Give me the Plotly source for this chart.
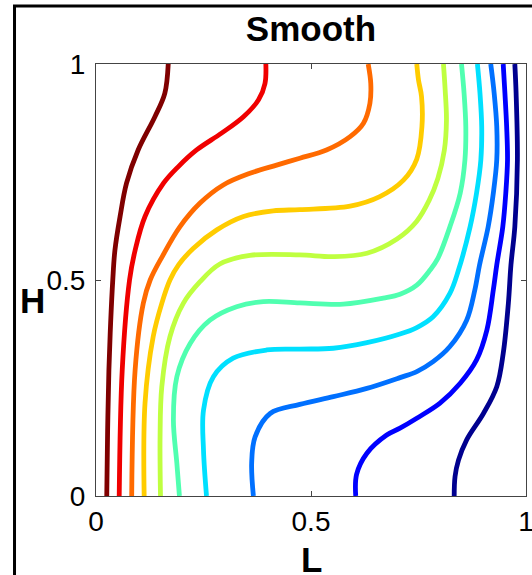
import plotly.graph_objects as go

# Contour lines (bottom edge -> top edge), in data units
line_colors = ["#800000", "#f00000", "#ff6a00", "#ffcc00", "#bfff40",
               "#50ffb0", "#00e0ff", "#0070ff", "#0000ff", "#00008f"]

dark_red_x = [0.025, 0.027, 0.030, 0.034, 0.039, 0.044, 0.056, 0.071, 0.098, 0.137, 0.160, 0.168]
dark_red_y = [0.000, 0.150, 0.292, 0.400, 0.500, 0.569, 0.647, 0.724, 0.801, 0.878, 0.932, 1.000]

red_x = [0.054, 0.061, 0.078, 0.091, 0.114, 0.157, 0.191, 0.234, 0.292, 0.343, 0.378, 0.393, 0.395]
red_y = [0.000, 0.292, 0.500, 0.569, 0.647, 0.724, 0.762, 0.801, 0.840, 0.878, 0.917, 0.955, 1.000]

orange_x = [0.083, 0.091, 0.110, 0.126, 0.155, 0.195, 0.242, 0.296, 0.358, 0.420, 0.474, 0.536, 0.591, 0.622, 0.637, 0.639, 0.633]
orange_y = [0.000, 0.292, 0.446, 0.500, 0.556, 0.623, 0.678, 0.720, 0.747, 0.766, 0.782, 0.801, 0.832, 0.863, 0.909, 0.955, 1.000]

yellow_x = [0.112, 0.114, 0.133, 0.153, 0.172, 0.192, 0.226, 0.281, 0.343, 0.412, 0.474, 0.591, 0.660, 0.715, 0.746, 0.758, 0.757, 0.750, 0.746]
yellow_y = [0.000, 0.215, 0.369, 0.446, 0.500, 0.535, 0.573, 0.616, 0.647, 0.660, 0.663, 0.671, 0.693, 0.731, 0.780, 0.855, 0.925, 0.963, 1.000]

ygreen_x = [0.150, 0.149, 0.153, 0.172, 0.203, 0.242, 0.288, 0.358, 0.474, 0.552, 0.630, 0.700, 0.745, 0.775, 0.795, 0.810, 0.815, 0.812, 0.808]
ygreen_y = [0.000, 0.137, 0.253, 0.369, 0.446, 0.496, 0.537, 0.557, 0.558, 0.554, 0.562, 0.595, 0.635, 0.685, 0.735, 0.800, 0.870, 0.940, 1.000]

aqua_x = [0.194, 0.188, 0.180, 0.188, 0.219, 0.265, 0.327, 0.389, 0.474, 0.575, 0.668, 0.707, 0.746, 0.777, 0.795, 0.823, 0.847, 0.858, 0.860, 0.856, 0.850]
aqua_y = [0.000, 0.076, 0.176, 0.276, 0.353, 0.407, 0.438, 0.450, 0.447, 0.444, 0.458, 0.467, 0.488, 0.523, 0.550, 0.623, 0.701, 0.778, 0.855, 0.932, 1.000]

cyan_x = [0.257, 0.250, 0.250, 0.273, 0.319, 0.397, 0.474, 0.552, 0.630, 0.707, 0.746, 0.784, 0.823, 0.843, 0.870, 0.885, 0.895, 0.897, 0.893, 0.887]
cyan_y = [0.000, 0.106, 0.199, 0.276, 0.319, 0.338, 0.340, 0.342, 0.355, 0.375, 0.390, 0.415, 0.469, 0.523, 0.623, 0.701, 0.778, 0.855, 0.932, 1.000]

lblue_x = [0.366, 0.362, 0.370, 0.405, 0.474, 0.552, 0.630, 0.707, 0.746, 0.784, 0.823, 0.862, 0.881, 0.892, 0.912, 0.924, 0.932, 0.932, 0.926, 0.918]
lblue_y = [0.000, 0.076, 0.137, 0.191, 0.212, 0.230, 0.249, 0.274, 0.288, 0.311, 0.346, 0.407, 0.477, 0.535, 0.623, 0.701, 0.778, 0.855, 0.932, 1.000]

blue_x = [0.604, 0.606, 0.630, 0.676, 0.707, 0.746, 0.800, 0.847, 0.885, 0.909, 0.924, 0.932, 0.946, 0.953, 0.957, 0.955, 0.951, 0.947]
blue_y = [0.000, 0.050, 0.099, 0.141, 0.157, 0.180, 0.215, 0.261, 0.315, 0.384, 0.477, 0.535, 0.623, 0.701, 0.778, 0.855, 0.932, 1.000]

dblue_x = [0.833, 0.835, 0.843, 0.862, 0.901, 0.932, 0.947, 0.959, 0.965, 0.974, 0.980, 0.977, 0.974]
dblue_y = [0.000, 0.045, 0.083, 0.130, 0.191, 0.253, 0.330, 0.446, 0.535, 0.623, 0.778, 0.932, 1.000]

lines_x = [dark_red_x, red_x, orange_x, yellow_x, ygreen_x, aqua_x, cyan_x, lblue_x, blue_x, dblue_x]
lines_y = [dark_red_y, red_y, orange_y, yellow_y, ygreen_y, aqua_y, cyan_y, lblue_y, blue_y, dblue_y]

tick_vals = [0, 0.5, 1]
tick_text = ["0", "0.5", "1"]

FONT = "Liberation Sans, Arial, sans-serif"

fig = go.Figure()
for xs, ys, c in zip(lines_x, lines_y, line_colors):
    fig.add_trace(go.Scatter(x=xs, y=ys, mode="lines",
                             line=dict(color=c, width=4.8, shape="spline", smoothing=1.0),
                             showlegend=False, hoverinfo="skip"))

axis_common = dict(range=[0, 1], tickvals=tick_vals, ticktext=tick_text,
                   showgrid=False, zeroline=False, showline=True, mirror="ticks",
                   linecolor="#444444", linewidth=1, ticks="inside", ticklen=5,
                   tickcolor="#444444", tickwidth=1, ticklabeloverflow="allow",
                   automargin=False,
                   tickfont=dict(family=FONT, size=28, color="black"))

fig.update_layout(
    width=532, height=575,
    margin=dict(l=96, r=6, t=64, b=79, autoexpand=False),
    paper_bgcolor="white", plot_bgcolor="white",
    xaxis=dict(**axis_common, ticklabelstandoff=0),
    yaxis=dict(**axis_common, ticklabelstandoff=4),
    title=dict(text="Smooth", x=311 / 532, xanchor="center", y=1 - 28.5 / 575, yanchor="middle",
               font=dict(family=FONT, size=35, color="black", weight="bold")),
    annotations=[
        dict(text="L", xref="paper", yref="paper", x=0.5, y=-0.147, xanchor="center", yanchor="middle",
             showarrow=False, font=dict(family=FONT, size=35, color="black", weight="bold")),
        dict(text="H", xref="paper", yref="paper", x=-0.1477, y=0.4525, xanchor="center", yanchor="middle",
             showarrow=False, font=dict(family=FONT, size=35, color="black", weight="bold")),
    ],
    shapes=[dict(type="rect", xref="paper", yref="paper", x0=-0.1895, x1=1.5, y0=-0.5, y1=1.1343,
                 line=dict(color="black", width=3), fillcolor="rgba(0,0,0,0)", layer="above")],
)

fig.write_html("out.html", config={"displayModeBar": False},
               post_script="document.body.style.margin='0';document.body.style.padding='0';"
                           "document.documentElement.style.overflow='hidden';")
